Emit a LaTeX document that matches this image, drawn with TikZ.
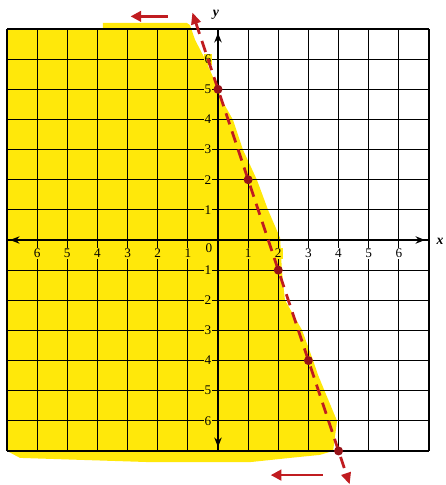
\documentclass[tikz,border=0pt]{standalone}
\usepackage{fontspec}
\setmainfont{Liberation Serif}
\usetikzlibrary{arrows.meta}
\definecolor{hl}{RGB}{255,232,10}
\definecolor{lred}{RGB}{192,28,32}
\definecolor{dred}{RGB}{150,18,24}
\tikzset{
  gridline/.style={black, line width=1.1pt},
  axisline/.style={black, line width=1.2pt, {Stealth[length=9pt,width=7pt]}-{Stealth[length=9pt,width=7pt]}},
  bound/.style={lred, line width=2.6pt, dash pattern=on 11pt off 7pt, line cap=butt,
    {Triangle[length=11pt,width=9pt]}-{Triangle[length=11pt,width=9pt]}},
  shadearrow/.style={lred, line width=2.4pt, -{Triangle[length=10pt,width=10pt]}},
  dotpt/.style={circle, fill=dred, inner sep=0pt, minimum size=8.5pt},
  tick/.style={font=\fontsize{12.5}{13}\selectfont, inner sep=1pt},
  axlab/.style={font=\fontsize{13}{14}\selectfont\bfseries\itshape, inner sep=0pt}
}
\begin{document}
\begin{tikzpicture}
\useasboundingbox (-7.233,-8.129) rectangle (7.532,7.963);
% shaded half-plane
\fill[hl] (-7,7) -- (-3.82,7) -- (-3.82,7.2) -- (-1.03,7.2) -- (-0.93,7.13)
  -- (-0.76,6.64) -- (-0.43,6.0) -- (-0.27,5.64) -- (0,5.04) -- (0.13,4.64)
  -- (0.5,3.98) -- (0.83,2.99) -- (1.29,2.0) -- (1.66,1.0) -- (2.06,0.07)
  -- (2.12,-1.0) -- (2.22,-1.99) -- (2.79,-2.99) -- (3.15,-3.98) -- (3.32,-4.48)
  -- (3.55,-5.04) -- (3.95,-6.0) -- (3.82,-7) -- (3.38,-7.13) -- (2.39,-7.23)
  -- (1.06,-7.37) -- (-2.26,-7.37) -- (-6.57,-7.23) -- (-7,-7) -- cycle;
% grid
\draw[gridline] (-7,-7) grid (7,7);
% axes
\draw[axisline] (-6.9,0) -- (6.87,0);
\draw[axisline] (0,-6.87) -- (0,6.87);
\node[axlab] (xl) at (7.37,-0.05) {x};
\node[axlab] (yl) at (-0.07,7.46) {y};
% tick labels
\foreach \v in {1,...,6} {
  \node[tick, fill=hl] (xm\v) at (-\v,-0.45) {\v};
  \node[tick, fill=hl] (yp\v) at (-0.33,\v) {\v};
  \node[tick, fill=hl] (ym\v) at (-0.33,-\v) {\v};
}
\node[tick, fill=hl] (xp1) at (1,-0.45) {1};
\node[tick, fill=hl] (xp2) at (2,-0.45) {2};
\foreach \v in {3,...,6} {
  \node[tick, fill=white] (xp\v) at (\v,-0.45) {\v};
}
\node[tick, fill=hl] (zero) at (-0.3,-0.27) {0};
% boundary line y = -3x + 5
\coordinate (ltop) at (-0.85,7.55);
\coordinate (lbot) at (4.37,-8.11);
\draw[bound] (ltop) -- (lbot);
\foreach \px/\py [count=\i] in {0/5,1/2,2/-1,3/-4,4/-7} {
  \node[dotpt] (p\i) at (\px,\py) {};
}
% shading direction arrows
\coordinate (ta1) at (-1.66,7.42);
\coordinate (ta2) at (-2.9,7.42);
\draw[shadearrow] (ta1) -- (ta2);
\coordinate (ba1) at (3.48,-7.8);
\coordinate (ba2) at (1.75,-7.8);
\draw[shadearrow] (ba1) -- (ba2);
\end{tikzpicture}
\end{document}
